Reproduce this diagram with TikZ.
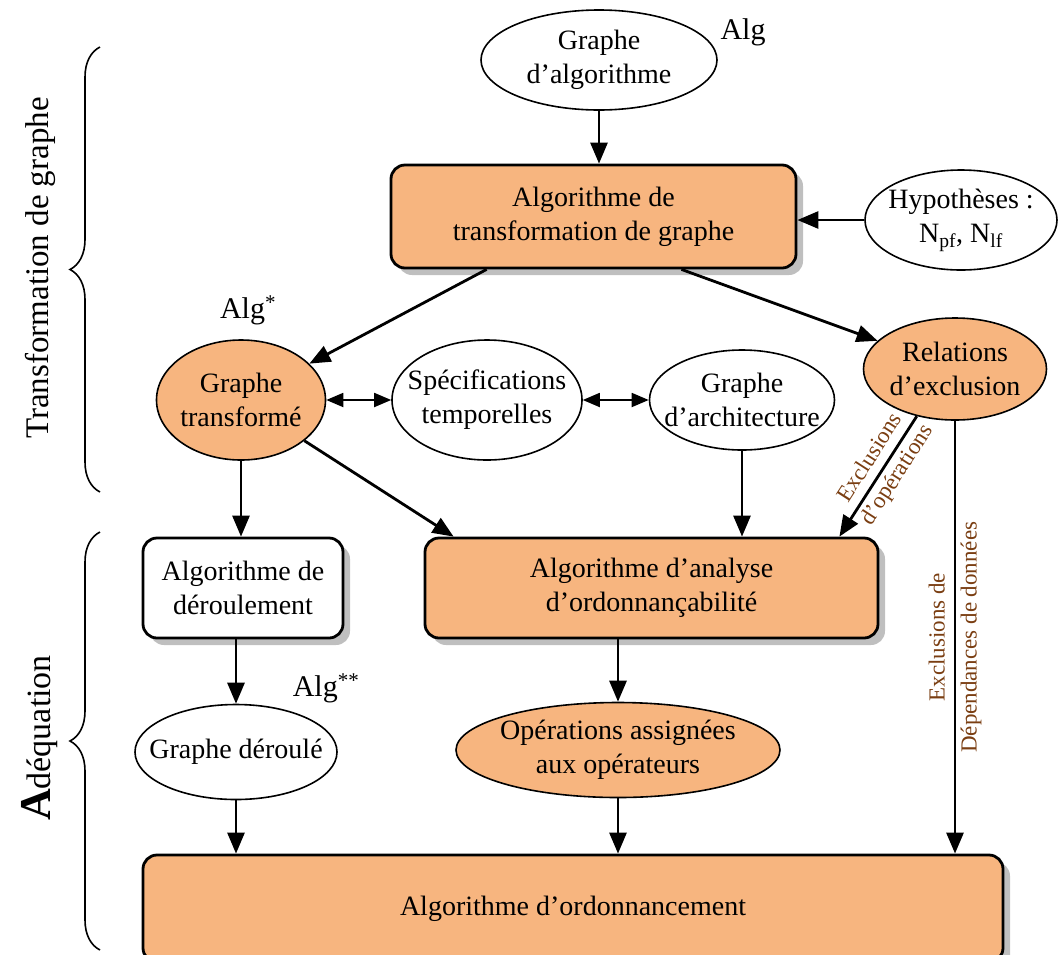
\documentclass[tikz,border=0pt]{standalone}
\usepackage{fontspec}
\setmainfont{Liberation Serif}
\usetikzlibrary{arrows.meta,shapes.geometric,shadows,decorations.pathreplacing}
\definecolor{orangeclair}{RGB}{247,181,127}
\definecolor{brun}{RGB}{122,62,18}
\begin{document}
\begin{tikzpicture}[x=1pt, y=-1pt, >={Triangle[length=21pt,width=17pt]},
  every node/.style={font=\fontsize{28}{34}\selectfont, align=center},
  boite/.style={draw, line width=2.8pt, rounded corners=14pt, fill=white,
    drop shadow={shadow xshift=7pt, shadow yshift=-7pt, fill=black!25, opacity=1}},
  ovale/.style={draw, ellipse, line width=1.6pt, fill=white, inner xsep=-40pt, inner ysep=-30pt},
  fleche/.style={->, line width=2.8pt},
  double/.style={<->, line width=1.8pt, >={Triangle[length=17pt,width=14pt]}},
  alg/.style={font=\fontsize{30}{34}\selectfont},
  remarque/.style={text=brun, font=\fontsize{23}{32}\selectfont}]
\useasboundingbox (0,0) rectangle (1060,954);

\node[ovale, minimum width=236pt, minimum height=100pt] (ga) at (599,60) {Graphe\\d’algorithme};
\node[alg] (alg) at (743,32) {Alg};
\node[boite, fill=orangeclair, minimum width=405pt, minimum height=103pt] (tr) at (593.5,216.5) {Algorithme de\\transformation de graphe};
\node[ovale, minimum width=192pt, minimum height=100pt] (hyp) at (961,220) {Hypothèses :\\N\textsubscript{pf}, N\textsubscript{lf}};

\node[ovale, fill=orangeclair, minimum width=169pt, minimum height=120pt] (gt) at (241,400) {Graphe\\transformé};
\node[alg] (algs) at (248,310) {Alg\textsuperscript{*}};
\node[ovale, minimum width=190pt, minimum height=120pt] (st) at (487,400) {Spécifications\\temporelles};
\node[ovale, minimum width=185pt, minimum height=100pt] (arch) at (742,400) {Graphe\\d’architecture};
\node[ovale, fill=orangeclair, minimum width=183pt, minimum height=102pt] (rel) at (955,369) {Relations\\d’exclusion};

\node[boite, minimum width=200pt, minimum height=100pt] (der) at (243,588) {Algorithme de\\déroulement};
\node[boite, fill=orangeclair, minimum width=453pt, minimum height=100pt] (ana) at (651.5,588) {Algorithme d’analyse\\d’ordonnançabilité};

\node[ovale, minimum width=202pt, minimum height=95pt] (gd) at (236,752) {Graphe déroulé};
\node[alg] (algss) at (326,688) {Alg\textsuperscript{**}};
\node[ovale, fill=orangeclair, minimum width=324pt, minimum height=95pt] (op) at (618,750) {Opérations assignées\\aux opérateurs};

\node[boite, fill=orangeclair, minimum width=860pt, minimum height=107pt] (ord) at (573,908.5) {Algorithme d’ordonnancement};

\draw[fleche] (ga.south) -- (ga.south |- tr.north);
\draw[fleche] (hyp.west) -- (hyp.west -| tr.east);
\draw[fleche] ([xshift=97pt]tr.south west) -- (gt);
\draw[fleche] ([xshift=-116pt]tr.south east) -- (rel);
\draw[double] (gt.east) -- (st.west);
\draw[double] (st.east) -- (arch.west);
\draw[fleche] (gt.south) -- (gt.south |- der.north);
\draw[fleche] (gt) -- ([xshift=30pt]ana.north west);
\draw[fleche] (arch.south) -- (arch.south |- ana.north);
\draw[fleche] (rel.231) -- ([xshift=-40pt]ana.north east)
  node[remarque, pos=0.42, sloped] {Exclusions\\d’opérations};
\draw[fleche] (rel.south) -- (rel.south |- ord.north)
  node[remarque, midway, rotate=90] {Exclusions de\\Dépendances de données};
\draw[fleche] (der.south -| gd) -- (gd.north);
\draw[fleche] (ana.south -| op) -- (op.north);
\draw[fleche] (gd.south) -- (gd.south |- ord.north);
\draw[fleche] (op.south) -- (op.south |- ord.north);

\draw[decorate, decoration={brace, amplitude=30pt}, line width=1.6pt] (100,492) -- (100,47);
\draw[decorate, decoration={brace, amplitude=30pt}, line width=1.6pt] (100,950) -- (100,532);
\node[rotate=90, font=\fontsize{33}{36}\selectfont] (titre1) at (40,268) {Transformation de graphe};
\node[rotate=90, font=\fontsize{34}{36}\selectfont] (titre2) at (40,738) {{\bfseries\fontsize{44}{44}\selectfont A}déquation};
\end{tikzpicture}
\end{document}
